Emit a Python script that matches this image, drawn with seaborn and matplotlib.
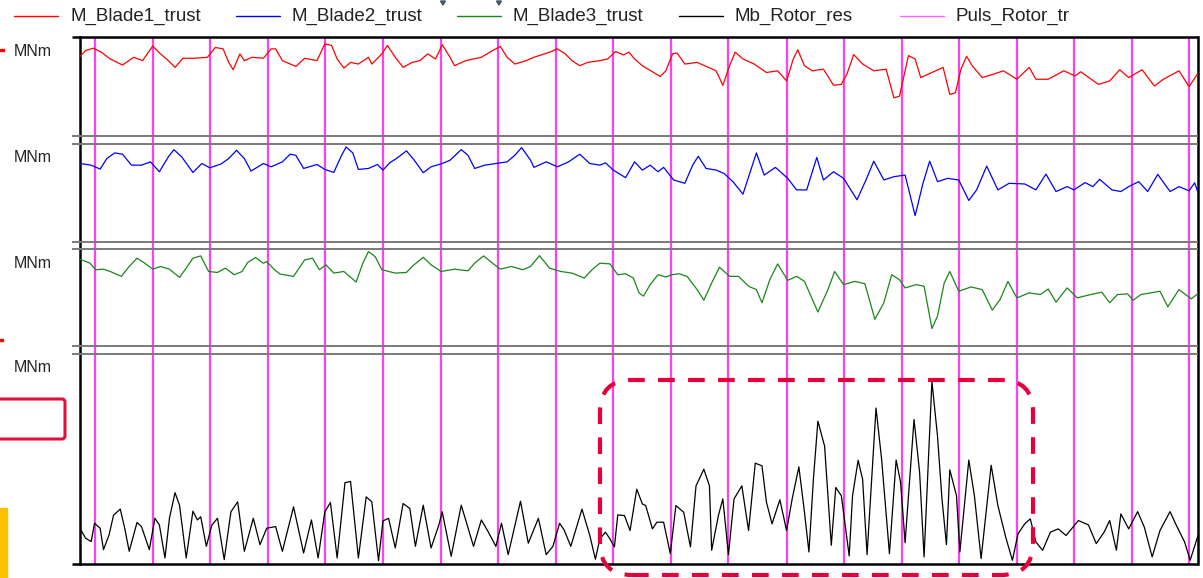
import numpy as np
import pandas as pd
import matplotlib
matplotlib.use("Agg")
import matplotlib.pyplot as plt
import seaborn as sns
from matplotlib.lines import Line2D
from matplotlib.patches import FancyBboxPatch, Rectangle, Polygon
from matplotlib.transforms import IdentityTransform

sns.set_theme(style="white")
plt.rcParams['font.family'] = ['Liberation Sans', 'DejaVu Sans']

# time axis in s (0..100), values in MNm (panel scale 0..10)
pulse_times = [1.3, 6.5, 11.6, 16.8, 21.9, 27.1, 32.3, 37.4, 42.6, 47.7,
               52.9, 58.0, 63.2, 68.3, 73.5, 78.6, 83.8, 88.9, 94.1, 99.2]

t_blade1 = [0.0, 0.5, 1.2, 1.9, 2.7, 3.8, 4.8, 5.6, 6.5, 7.2,
            7.9, 8.5, 9.2, 10.2, 11.4, 12.1, 12.8, 13.3, 13.7, 14.3,
            14.7, 15.4, 16.4, 17.1, 17.5, 18.1, 19.3, 20.1, 21.2, 21.9,
            22.5, 23.0, 23.6, 24.2, 24.9, 25.8, 26.1, 27.0, 27.5, 28.2,
            28.9, 29.7, 30.4, 31.1, 31.8, 32.4, 33.1, 33.5, 34.5, 35.9,
            36.9, 37.6, 38.2, 38.9, 39.9, 40.6, 42.0, 42.7, 43.4, 44.0,
            44.7, 45.4, 46.5, 47.2, 47.9, 48.6, 49.1, 49.6, 50.3, 51.4,
            51.9, 52.4, 53.0, 53.4, 54.1, 55.2, 56.2, 56.9, 57.5, 58.1,
            58.6, 59.3, 60.3, 61.4, 62.4, 63.2, 63.8, 64.2, 64.8, 65.5,
            66.5, 67.4, 68.1, 68.6, 69.2, 70.0, 71.0, 72.1, 72.8, 73.3,
            73.8, 74.1, 74.7, 75.2, 76.2, 77.2, 77.8, 78.3, 78.8, 79.3,
            79.8, 80.7, 81.7, 82.6, 83.8, 84.9, 85.5, 86.6, 88.0, 89.0,
            89.5, 91.1, 92.1, 93.0, 93.8, 95.0, 96.1, 96.9, 98.3, 99.2,
            100.0]
m_blade1 = [8.03, 8.62, 8.86, 8.45, 7.76, 7.14, 7.93, 7.59, 9.07, 8.28,
            7.59, 6.90, 7.83, 7.83, 7.93, 8.93, 8.79, 7.41, 6.66, 8.28,
            7.59, 7.93, 7.83, 8.79, 8.79, 7.59, 7.00, 7.83, 7.59, 9.31,
            9.14, 7.76, 6.83, 7.41, 7.24, 7.93, 7.24, 8.28, 9.14, 7.93,
            6.90, 7.41, 7.59, 8.28, 7.76, 9.21, 7.93, 7.07, 7.59, 7.93,
            8.62, 9.03, 7.93, 7.24, 7.59, 7.93, 8.45, 8.79, 8.28, 7.59,
            7.07, 7.41, 7.59, 7.76, 8.52, 8.17, 8.45, 7.76, 7.07, 6.31,
            5.97, 6.55, 8.28, 8.38, 7.24, 7.41, 6.90, 6.55, 5.07, 7.07,
            8.45, 7.76, 7.24, 6.38, 6.55, 5.52, 7.76, 8.69, 7.07, 6.55,
            6.72, 5.07, 5.17, 6.21, 8.21, 7.24, 6.55, 6.72, 3.79, 3.97,
            6.55, 8.10, 7.76, 5.86, 6.38, 6.90, 4.14, 4.31, 6.72, 8.03,
            7.07, 5.86, 6.21, 6.55, 5.69, 6.90, 5.69, 5.69, 6.55, 6.03,
            6.45, 5.17, 5.52, 6.66, 5.86, 6.66, 5.00, 5.69, 6.55, 4.93,
            6.31]

t_blade2 = [0.0, 1.0, 1.8, 2.4, 3.1, 3.8, 4.6, 5.5, 6.3, 7.1,
            7.9, 8.4, 9.1, 10.1, 10.9, 11.6, 12.6, 13.3, 14.0, 14.7,
            15.3, 16.4, 17.1, 18.1, 18.8, 19.3, 20.0, 21.2, 21.9, 22.7,
            23.4, 23.8, 24.4, 24.9, 25.8, 26.6, 27.1, 27.7, 28.3, 29.2,
            29.9, 30.7, 31.4, 32.4, 33.1, 34.1, 34.7, 35.3, 36.2, 37.2,
            38.2, 38.9, 39.5, 40.3, 40.6, 41.7, 42.7, 43.7, 44.7, 45.6,
            46.5, 47.0, 47.7, 48.8, 49.6, 50.3, 51.0, 51.7, 52.2, 53.1,
            54.1, 54.8, 55.3, 56.0, 56.9, 57.6, 58.4, 59.3, 60.0, 60.5,
            61.2, 62.2, 63.3, 64.1, 65.0, 65.9, 66.5, 67.4, 68.3, 69.5,
            70.3, 71.0, 71.9, 72.8, 73.8, 74.7, 75.4, 76.0, 76.7, 77.6,
            78.6, 79.5, 80.2, 81.1, 82.1, 83.1, 84.5, 85.5, 86.4, 87.3,
            88.3, 88.9, 89.9, 90.6, 91.2, 92.3, 93.1, 93.8, 94.7, 95.5,
            96.4, 97.5, 98.3, 99.2, 99.7, 100.0]
m_blade2 = [7.99, 7.82, 7.41, 8.50, 9.08, 8.95, 7.82, 7.82, 8.16, 7.14,
            8.67, 9.42, 8.67, 7.07, 7.99, 7.55, 7.93, 8.50, 9.35, 8.50,
            7.21, 7.99, 7.65, 8.16, 8.95, 8.84, 7.48, 7.89, 7.38, 7.07,
            8.84, 9.69, 9.08, 7.38, 7.48, 7.89, 7.31, 8.06, 8.50, 9.29,
            8.33, 7.04, 7.65, 7.99, 8.33, 9.42, 8.84, 7.48, 7.82, 7.99,
            8.16, 8.84, 9.63, 8.33, 7.59, 8.16, 7.65, 8.16, 8.95, 7.99,
            7.82, 8.06, 7.31, 6.53, 8.16, 7.31, 7.82, 7.14, 7.59, 6.29,
            5.95, 7.82, 8.74, 7.48, 7.31, 6.97, 6.12, 4.83, 7.31, 9.08,
            6.80, 7.59, 6.46, 5.27, 5.27, 8.61, 6.29, 7.14, 6.46, 4.25,
            6.29, 8.23, 6.29, 6.63, 6.80, 2.62, 5.95, 8.23, 6.12, 6.46,
            6.29, 4.18, 5.27, 7.72, 5.27, 5.95, 5.88, 5.27, 6.90, 5.10,
            5.61, 5.27, 6.02, 5.61, 6.36, 5.27, 5.10, 5.61, 6.12, 5.10,
            6.87, 5.10, 5.61, 5.17, 6.00, 5.00]

t_blade3 = [0.0, 0.9, 1.4, 2.1, 2.7, 3.7, 4.4, 5.1, 5.8, 6.5,
            7.2, 8.0, 8.9, 9.6, 10.1, 10.8, 11.5, 12.3, 13.0, 13.8,
            14.5, 15.0, 15.7, 16.4, 16.7, 17.4, 17.9, 19.1, 20.1, 20.8,
            21.4, 22.0, 22.7, 23.6, 24.7, 25.3, 25.8, 26.4, 27.0, 28.2,
            29.2, 29.7, 30.7, 31.4, 32.3, 33.5, 34.7, 35.3, 36.1, 36.9,
            37.6, 38.6, 39.6, 40.3, 41.1, 42.0, 43.0, 44.0, 45.1, 45.8,
            46.5, 47.4, 48.1, 48.8, 49.5, 50.0, 50.4, 51.0, 51.7, 52.4,
            52.9, 53.6, 54.3, 55.2, 55.8, 56.5, 57.2, 58.1, 58.9, 59.8,
            60.5, 61.0, 61.7, 62.4, 63.3, 64.1, 64.8, 66.0, 66.9, 67.5,
            68.3, 69.3, 70.2, 71.1, 71.9, 72.6, 73.3, 73.8, 74.8, 75.5,
            76.2, 76.7, 77.3, 77.8, 78.6, 79.7, 80.7, 81.6, 82.3, 83.0,
            83.8, 84.9, 85.9, 86.6, 87.3, 88.3, 89.2, 90.4, 91.4, 92.1,
            92.8, 93.7, 94.2, 94.9, 96.6, 97.3, 98.3, 99.4, 100.0]
m_blade3 = [8.93, 8.52, 7.84, 7.90, 7.66, 7.15, 8.18, 9.04, 8.52, 7.90,
            8.18, 7.90, 7.04, 8.18, 9.04, 9.28, 7.66, 7.56, 8.01, 7.32,
            7.66, 8.59, 9.11, 8.52, 8.69, 7.84, 7.39, 7.15, 8.87, 9.04,
            7.84, 8.35, 7.49, 7.66, 6.56, 8.52, 9.73, 9.21, 7.84, 7.49,
            7.56, 8.18, 9.14, 8.35, 7.66, 7.90, 7.73, 8.52, 9.28, 8.52,
            7.90, 8.18, 7.84, 8.18, 9.31, 8.01, 7.66, 7.49, 6.98, 7.84,
            8.52, 8.45, 7.32, 7.42, 6.98, 5.43, 5.09, 6.29, 7.32, 7.08,
            7.32, 7.42, 7.15, 5.77, 4.67, 6.46, 8.11, 7.15, 7.15, 6.12,
            5.77, 4.40, 6.80, 8.45, 6.74, 7.15, 6.63, 3.44, 5.77, 7.66,
            6.29, 6.63, 6.39, 2.68, 4.40, 7.32, 6.80, 5.95, 6.29, 6.12,
            1.72, 3.02, 6.46, 7.66, 5.60, 6.05, 5.77, 3.64, 4.74, 6.63,
            4.91, 5.43, 5.26, 5.84, 4.47, 5.95, 4.91, 5.26, 5.50, 4.40,
            5.26, 5.33, 4.67, 5.26, 5.60, 3.99, 5.77, 4.81, 5.36]

t_rotor = [0.0, 0.5, 1.0, 1.3, 1.8, 2.1, 2.6, 3.0, 3.6, 4.0,
           4.4, 5.1, 5.5, 6.2, 6.7, 7.1, 7.6, 8.0, 8.5, 8.9,
           9.5, 10.1, 10.5, 10.8, 11.3, 11.8, 12.3, 12.9, 13.5, 14.1,
           14.7, 15.5, 16.1, 16.7, 17.5, 18.1, 19.1, 20.0, 20.7, 21.3,
           21.9, 22.4, 23.0, 23.7, 24.2, 24.9, 25.6, 26.1, 26.7, 27.1,
           27.6, 28.2, 28.9, 29.5, 30.0, 30.7, 31.4, 32.1, 32.4, 33.2,
           34.1, 35.2, 35.9, 36.5, 37.2, 37.7, 38.3, 39.4, 40.1, 41.0,
           41.7, 42.3, 42.9, 43.3, 43.9, 44.9,
           45.6, 46.1, 46.5, 47.0, 47.4, 47.8, 48.1, 48.7, 49.2, 49.8,
           50.3, 50.6, 51.2, 51.6, 52.2, 52.8, 53.3, 54.0, 54.6, 55.1,
           55.8, 56.3, 56.5, 57.1, 57.5, 58.0, 58.5, 59.2, 59.8, 60.4,
           61.0, 61.4, 61.9, 62.6, 63.2, 63.7, 64.3, 64.8, 65.2, 65.6,
           66.0, 66.6, 67.2, 67.6, 68.1, 68.8, 69.1, 69.6, 70.0, 70.4,
           71.2, 71.7, 72.4, 73.0, 73.4, 73.8, 74.6, 75.1, 75.5, 76.2,
           76.7, 77.1, 77.5, 77.8, 78.4, 78.7, 79.5, 80.0, 80.6, 81.5,
           82.1, 82.8, 83.4, 83.9, 84.5, 85.0, 85.5, 86.1, 86.8, 87.5,
           88.2, 89.3, 90.2, 90.9, 91.6, 92.1, 92.7, 93.1, 93.8, 94.6,
           95.2, 95.9, 96.6, 97.5, 98.0, 98.8, 99.3, 100.0]
m_rotor = [1.62, 1.14, 0.98, 1.86, 1.62, 0.59, 1.30, 2.25, 2.54, 1.62,
           0.51, 1.90, 1.70, 0.59, 2.10, 1.78, 0.19, 2.10, 3.33, 2.73,
           0.19, 2.44, 2.02, 2.17, 0.75, 1.78, 2.10, 0.11, 2.41, 2.89,
           0.51, 2.10, 0.83, 1.62, 1.70, 0.51, 2.65, 0.43, 2.02, 0.19,
           2.41, 2.86, 0.19, 3.81, 3.87, 0.19, 3.13, 2.89, 0.06, 1.97,
           2.10, 0.67, 2.81, 2.57, 0.75, 2.73, 0.67, 1.78, 2.41, 0.27,
           2.73, 0.75, 2.02, 1.46, 0.75, 1.86, 0.35, 2.92, 0.90, 2.10,
           0.35, 0.75, 1.86, 1.54, 0.75, 2.54,
           1.27, 0.13, 1.11, 1.43, 1.11, 0.72, 2.26, 2.23, 1.51, 3.50,
           2.79, 2.71, 1.59, 1.91, 1.91, 0.40, 2.71, 2.39, 0.72, 3.66,
           4.46, 3.66, 0.56, 2.23, 3.03, 0.35, 3.03, 3.66, 1.51, 4.75,
           4.62, 2.87, 1.83, 2.99, 1.51, 3.03, 4.57, 2.39, 0.48, 3.98,
           6.77, 5.57, 0.80, 3.58, 3.18, 0.29, 3.18, 4.89, 3.98, 0.35,
           7.40, 4.94, 0.40, 4.90, 3.82, 0.92, 6.85, 4.30, 0.24, 8.68,
           6.05, 3.03, 0.83, 4.43, 3.18, 0.48, 4.90, 3.18, 0.16, 4.65,
           2.71, 1.19, 0.08, 1.35, 1.83, 2.07, 0.96, 0.56, 1.43, 1.59,
           1.27, 1.99, 1.78, 0.88, 1.43, 1.99, 0.56, 2.31, 1.59, 2.42,
           1.67, 0.24, 1.51, 2.42, 1.83, 0.96, 0.08, 1.27]

labels = ["M_Blade1_trust", "M_Blade2_trust", "M_Blade3_trust", "Mb_Rotor_res", "Puls_Rotor_tr"]
colors = ["#ff0000", "#0000ff", "#1a861a", "#000000", "#ff66ff"]
series = [(t_blade1, m_blade1), (t_blade2, m_blade2), (t_blade3, m_blade3), (t_rotor, m_rotor)]

W, H = 1203, 578
fig = plt.figure(figsize=(W / 100, H / 100), dpi=100)
fig.patch.set_facecolor("white")

def fx(px):
    return px / W

def fy(py):
    return 1 - py / H

x0, x1 = 80, 1198
panel_px = [(37, 136), (144, 242), (249, 346), (354, 564)]
GREY = "#7a7a7a"
MAG = "#ff40f0"

# background axes: pulses + left/right frame
bg = fig.add_axes([fx(x0), fy(564), fx(x1 - x0), (564 - 37) / H])
bg.set_xlim(0, 100)
bg.set_ylim(0, 1)
bg.vlines(pulse_times, 0, 1, colors=MAG, lw=1.6)
bg.set_xticks([])
bg.set_yticks([])
for s in ["top", "bottom"]:
    bg.spines[s].set_visible(False)
for s in ["left", "right"]:
    bg.spines[s].set_color("black")
    bg.spines[s].set_linewidth(1.8)
bg.patch.set_alpha(0)

ext = -8 / (x1 - x0)
for i, ((top, bot), (t, v)) in enumerate(zip(panel_px, series)):
    ax = fig.add_axes([fx(x0), fy(bot), fx(x1 - x0), (bot - top) / H])
    ax.patch.set_alpha(0)
    df = pd.DataFrame({"t": t, "v": v})
    sns.lineplot(data=df, x="t", y="v", ax=ax, color=colors[i], lw=0.9, sort=False)
    ax.set_xlim(0, 100)
    ax.set_ylim(-0.1, 10)
    ax.set_xticks([])
    ax.set_yticks([])
    ax.set_xlabel("")
    ax.set_ylabel("")
    for s in ax.spines.values():
        s.set_visible(False)
    top_col = "black" if i == 0 else GREY
    bot_col = "black" if i == 3 else GREY
    ax.plot([ext, 1], [1, 1], transform=ax.transAxes, color=top_col,
            lw=1.8 if i == 0 else 1.4, clip_on=False, solid_capstyle="butt")
    ax.plot([ext, 1], [0, 0], transform=ax.transAxes, color=bot_col,
            lw=1.8 if i == 3 else 1.4, clip_on=False, solid_capstyle="butt")
    fig.text(fx(33), fy(top + 14), "MNm", ha="center", va="center",
             fontsize=11.5, color="#222222")

# legend row
for i, (lab, col) in enumerate(zip(labels, colors)):
    lx = 14 + 221.5 * i
    fig.add_artist(Line2D([fx(lx), fx(lx + 44)], [fy(16), fy(16)],
                          transform=fig.transFigure, color=col, lw=1.0))
    fig.text(fx(lx + 56), fy(16), lab, ha="left", va="center",
             fontsize=13.5, color="#222222")

# slide overlay shapes
pix = IdentityTransform()
fig.add_artist(FancyBboxPatch((600, 3), 433, 195,
                              boxstyle="round,pad=0,rounding_size=32",
                              fill=False, ec="#e5003c", lw=3,
                              linestyle=(0, (4, 3.2)), transform=pix))
fig.add_artist(FancyBboxPatch((-30, 139), 95, 40,
                              boxstyle="round,pad=0,rounding_size=3",
                              fill=False, ec="#e0103c", lw=2.2, transform=pix))
fig.add_artist(Rectangle((0, 0), 6.5, 70, color="#ffc000", transform=pix))
fig.add_artist(Rectangle((0, H - 51), 4, 2, color="#ff0000", transform=pix))
fig.add_artist(Rectangle((0, H - 341), 3, 2, color="#ff0000", transform=pix))
for ax_ in [443, 499]:
    fig.add_artist(Polygon([(ax_ - 2.5, H - 1), (ax_ + 2.5, H - 1), (ax_, H - 5)],
                           closed=True, color="#44546a", transform=pix))

fig.savefig("out.png", dpi=100, facecolor="white")
